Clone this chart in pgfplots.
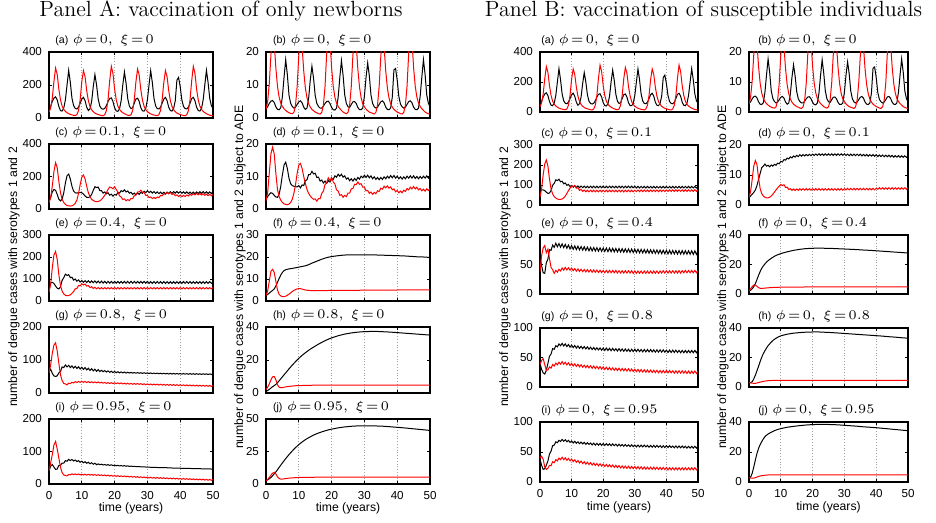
\RequirePackage{fix-cm}
\documentclass[border=0pt]{standalone}
\usepackage{fontspec}
\usepackage{pgfplots}
\usepackage{pgfplotstable}
\pgfplotsset{compat=1.18}
\newfontfamily\arial{Liberation Sans}
\newcommand{\tickfont}{\arial\fontsize{5.8}{6.5}\selectfont}
\newcommand{\lblfont}{\arial\fontsize{6.1}{7}\selectfont}
\newcommand{\ttl}[3]{{\arial\fontsize{5.3}{6}\selectfont(#1)}\hspace{2.3pt}{\thickmuskip=2.5mu$\phi=#2,\ \xi=#3$}}
\pgfplotsset{
  every axis title/.style={at={(0,1)}, anchor=base west, yshift=4.3pt, inner sep=0pt, font=\fontsize{6.6}{8}\selectfont},
  sp/.style={
    scale only axis, anchor=south west,
    xmin=0, xmax=50, ymin=0,
    xtick={0,10,20,30,40,50},
    xticklabels={},
    xmajorgrids, grid style={densely dotted, gray!75, line width=0.35pt},
    tick align=inside,
    major tick length=1.6pt,
    tick style={black, line width=0.4pt},
    axis line style={line width=0.7pt},
    ticklabel style={font=\tickfont},
    /pgf/number format/assume math mode=true,
    every axis plot/.append style={line width=0.5pt},
  },
  bot/.style={xticklabels={0,10,20,30,40,50}},
}
\begin{document}
\pgfplotstableread{
t b r
0 55 35
0.5 70 60
1 100 120
1.5 120 220
2 128 303
2.5 110 265
3 70 175
3.5 45 110
4 42 72
4.5 60 52
5 110 40
5.5 200 32
6 289 26
6.5 215 22
7 120 19
7.5 75 16
8 58 15
8.5 55 20
9 65 45
9.5 90 110
10 115 220
10.5 125 287
11 105 250
11.5 65 165
12 45 105
12.5 55 70
13 100 50
13.5 190 38
14 263 30
14.5 200 25
15 115 21
15.5 72 18
16 57 15
16.5 53 14
17 58 20
17.5 75 45
18 100 110
18.5 118 225
19 122 313
19.5 100 270
20 62 175
20.5 43 110
21 40 72
21.5 55 52
22 105 40
22.5 200 32
23 279 26
23.5 210 21
24 118 17
24.5 72 15
25 57 20
25.5 62 45
26 90 110
26.5 115 220
27 120 297
27.5 100 260
28 62 170
28.5 43 108
29 42 70
29.5 58 50
30 110 39
30.5 200 31
31 287 25
31.5 215 21
32 120 18
32.5 74 16
33 57 14
33.5 55 20
34 65 45
34.5 90 110
35 115 215
35.5 125 287
36 105 250
36.5 65 165
37 45 105
37.5 42 70
38 58 50
38.5 105 38
39 230 30
39.5 246 25
40 190 21
40.5 110 18
41 70 15
41.5 57 14
42 55 20
42.5 65 45
43 90 110
43.5 118 225
44 125 313
44.5 105 270
45 65 175
45.5 45 110
46 42 72
46.5 58 52
47 110 40
47.5 200 32
48 289 26
48.5 215 21
49 120 17
49.5 75 15
50 58 14
}\tA
\pgfplotstableread{
t b r
0 2.9 2.6
0.5 3.4 5.0
1 4.4 10.4
1.5 5.1 19.1
2 5.3 26.3
2.5 4.7 23.0
3 3.4 15.2
3.5 2.6 9.6
4 2.5 6.3
4.5 3.1 4.5
5 6.5 3.5
5.5 12.3 2.8
6 17.7 2.3
6.5 13.2 1.9
7 7.0 1.6
7.5 4.5 1.4
8 3.5 1.3
8.5 3.0 1.7
9 3.3 3.9
9.5 4.1 9.6
10 4.9 19.1
10.5 5.2 25.0
11 4.6 21.7
11.5 3.3 14.3
12 2.6 9.1
12.5 3.0 6.1
13 6.0 4.3
13.5 11.5 3.3
14 15.7 2.6
14.5 12.0 2.2
15 6.8 1.8
15.5 4.4 1.6
16 3.5 1.3
16.5 3.0 1.2
17 3.0 1.7
17.5 3.6 3.9
18 4.4 9.6
18.5 5.0 19.6
19 5.1 27.2
19.5 4.4 23.5
20 3.2 15.2
20.5 2.5 9.6
21 2.4 6.3
21.5 3.0 4.5
22 6.3 3.5
22.5 12.2 2.8
23 17.4 2.3
23.5 12.9 1.8
24 7.0 1.5
24.5 4.4 1.3
25 3.4 1.7
25.5 3.2 3.9
26 4.1 9.6
26.5 4.9 19.1
27 5.0 25.8
27.5 4.4 22.6
28 3.2 14.8
28.5 2.5 9.4
29 2.5 6.1
29.5 3.0 4.3
30 6.6 3.4
30.5 12.3 2.7
31 16.7 2.2
31.5 12.8 1.8
32 7.0 1.6
32.5 4.4 1.4
33 3.4 1.2
33.5 3.0 1.7
34 3.3 3.9
34.5 4.1 9.6
35 4.9 18.7
35.5 5.2 25.0
36 4.6 21.7
36.5 3.3 14.3
37 2.6 9.1
37.5 2.5 6.1
38 3.0 4.3
38.5 6.3 3.3
39 14.6 2.6
39.5 15.0 2.2
40 11.5 1.8
40.5 6.5 1.6
41 4.2 1.3
41.5 3.4 1.2
42 3.0 1.7
42.5 3.3 3.9
43 4.1 9.6
43.5 5.0 19.6
44 5.2 27.2
44.5 4.6 23.5
45 3.3 15.2
45.5 2.6 9.6
46 2.5 6.3
46.5 3.0 4.5
47 6.6 3.5
47.5 12.3 2.8
48 17.7 2.3
48.5 13.2 1.8
49 7.0 1.5
49.5 4.5 1.3
50 3.4 1.2
}\tB
\begin{tikzpicture}
\path[use as bounding box] (0,0) rectangle (468pt,-261.5pt);
% ---------------- Panel A ----------------
\begin{axis}[sp, at={(24.5pt,-59pt)}, width=82pt, height=33pt, ymax=400, ytick={0,200,400},
  title={\ttl{a}{0}{0}}, title style={xshift=3pt}]
\addplot[black] table[x=t,y=b]{\tA};
\addplot[red] table[x=t,y=r]{\tA};
\end{axis}
\begin{axis}[sp, at={(133pt,-59pt)}, width=82pt, height=33pt, ymax=20, ytick={0,10,20},
  title={\ttl{b}{0}{0}}, title style={xshift=3.3pt}]
\addplot[black] table[x=t,y=b]{\tB};
\addplot[red] table[x=t,y=r]{\tB};
\end{axis}
\begin{axis}[sp, at={(24.5pt,-104.5pt)}, width=82pt, height=32.5pt, ymax=400, ytick={0,200,400},
  title={\ttl{c}{0.1}{0}}, title style={xshift=3pt}]
\addplot[black] coordinates {(0,45)(0.5,70)(1,105)(1.5,120)(2,115)(2.5,90)(3,60)(3.5,50)(4,60)(4.5,100)(5,160)(5.5,205)(6,215)(6.5,185)(7,140)(7.5,110)(8,100)(8.5,98)(9,100)(9.5,102)(10,100)(10.5,92)(11,80)(11.5,72)(12,70)(12.5,75)(13,90)(13.5,115)(14,137)(14.5,132)(15,135)(15.5,113)(16,113)(16.5,98)(17,105)(17.5,93)(18,100)(18.5,85)(19,91)(19.5,79)(20,90)(20.5,85)(21,101)(21.5,98)(22,113)(22.5,107)(23,118)(23.5,105)(24,111)(24.5,97)(25,103)(25.5,90)(26,98)(26.5,87)(27,98)(27.5,90)(28,103)(28.5,96)(29,109)(29.5,101)(30,112)(30.5,101)(31,109)(31.5,98)(32,107)(32.5,96)(33,105)(33.5,94.5)(34,104)(34.5,93.5)(35,103)(35.5,93.5)(36,104)(36.5,95)(37,106)(37.5,96.5)(38,107)(38.5,97.5)(39,108)(39.5,97.5)(40,107)(40.5,96.5)(41,106)(41.5,95.5)(42,105)(42.5,94.5)(43,104)(43.5,94)(44,104)(44.5,94.5)(45,105)(45.5,95.5)(46,106)(46.5,96.5)(47,107)(47.5,96.5)(48,106)(48.5,95.5)(49,105)(49.5,95)(50,105)};
\addplot[red] coordinates {(0,40)(0.5,70)(1,140)(1.5,230)(2,285)(2.5,255)(3,170)(3.5,100)(4,60)(4.5,40)(5,28)(5.5,22)(6,19)(6.5,18)(7,20)(7.5,25)(8,35)(8.5,55)(9,95)(9.5,150)(10,195)(10.5,210)(11,185)(11.5,140)(12,100)(12.5,75)(13,60)(13.5,52)(14,47)(14.5,45)(15,46)(15.5,50)(16,58)(16.5,70)(17,85)(17.5,100)(18,120)(18.5,135)(19,132)(19.5,125)(20,137)(20.5,120)(21,104)(21.5,81)(22,74)(22.5,59)(23,62)(23.5,51)(24,58)(24.5,52)(25,64)(25.5,64)(26,82)(26.5,86)(27,104)(27.5,106)(28,116)(28.5,102)(29,102)(29.5,84)(30,84)(30.5,70)(31,74)(31.5,64)(32,71)(32.5,64)(33,74)(33.5,70)(34,83)(34.5,81)(35,94)(35.5,90)(36,101)(36.5,94)(37,101)(37.5,90)(38,94)(38.5,82)(39,87)(39.5,77)(40,84)(40.5,76)(41,84)(41.5,77)(42,86)(42.5,80)(43,90)(43.5,84)(44,94)(44.5,87)(45,96)(45.5,87.5)(46,95)(46.5,86)(47,93)(47.5,84)(48,91)(48.5,82.5)(49,90)(49.5,81.5)(50,89)};
\end{axis}
\begin{axis}[sp, at={(133pt,-104.5pt)}, width=82pt, height=32.5pt, ymax=20, ytick={0,10,20},
  title={\ttl{d}{0.1}{0}}, title style={xshift=3.3pt}]
\addplot[black] coordinates {(0,3)(0.5,3.8)(1,4.5)(1.5,5)(2,4.8)(2.5,4.2)(3,3.7)(3.5,3.6)(4,4.5)(4.5,7)(5,10.5)(5.5,13.5)(6,14.4)(6.5,12.5)(7,9.5)(7.5,7.8)(8,7.2)(8.5,7)(9,6.9)(9.5,6.8)(10,7.2)(10.5,6.5)(11,7.4)(11.5,7.2)(12,8.7)(12.5,9)(13,10.6)(13.5,10.6)(14,11.6)(14.5,10.8)(15,11)(15.5,9.7)(16,9.8)(16.5,8.6)(17,8.9)(17.5,8)(18,8.6)(18.5,7.9)(19,8.7)(19.5,8.3)(20,9.4)(20.5,9.1)(21,10.2)(21.5,9.8)(22,10.7)(22.5,10.1)(23,10.7)(23.5,9.8)(24,10.2)(24.5,9.2)(25,9.6)(25.5,8.7)(26,9.3)(26.5,8.6)(27,9.4)(27.5,8.8)(28,9.7)(28.5,9.2)(29,10.1)(29.5,9.6)(30,10.4)(30.5,9.7)(31,10.4)(31.5,9.6)(32,10.2)(32.5,9.3)(33,9.9)(33.5,9.1)(34,9.7)(34.5,9)(35,9.7)(35.5,9.1)(36,9.9)(36.5,9.3)(37,10.1)(37.5,9.5)(38,10.3)(38.5,9.6)(39,10.3)(39.5,9.5)(40,10.1)(40.5,9.3)(41,9.9)(41.5,9.2)(42,9.9)(42.5,9.3)(43,10.1)(43.5,9.5)(44,10.2)(44.5,9.5)(45,10.2)(45.5,9.4)(46,10)(46.5,9.3)(47,10)(47.5,9.4)(48,10.1)(48.5,9.5)(49,10.2)(49.5,9.5)(50,10.2)};
\addplot[red] coordinates {(0,2.5)(0.5,5)(1,11)(1.5,17)(2,19)(2.5,17)(3,11)(3.5,6)(4,3.8)(4.5,2.7)(5,2)(5.5,1.6)(6,1.4)(6.5,1.3)(7,1.5)(7.5,2)(8,3)(8.5,4.8)(9,7.5)(9.5,11)(10,13.5)(10.5,14)(11,12.5)(11.5,10)(12,7.8)(12.5,6)(13,4.8)(13.5,4)(14,3.4)(14.5,3)(15,3.1)(15.5,2.4)(16,3.2)(16.5,3.2)(17,4.8)(17.5,5.5)(18,7.5)(18.5,8.1)(19,9.6)(19.5,8.7)(20,9.7)(20.5,8.3)(21,7.7)(21.5,5.9)(22,5.5)(22.5,4.2)(23,4.4)(23.5,3.6)(24,4.2)(24.5,3.8)(25,4.9)(25.5,4.9)(26,6.2)(26.5,6.3)(27,7.6)(27.5,7.5)(28,8.3)(28.5,7.6)(29,7.8)(29.5,6.7)(30,6.7)(30.5,5.6)(31,5.7)(31.5,4.8)(32,5.2)(32.5,4.5)(33,5.1)(33.5,4.7)(34,5.6)(34.5,5.4)(35,6.4)(35.5,6.1)(36,7)(36.5,6.5)(37,7.1)(37.5,6.4)(38,6.8)(38.5,5.9)(39,6.2)(39.5,5.3)(40,5.7)(40.5,5)(41,5.5)(41.5,5)(42,5.8)(42.5,5.4)(43,6.3)(43.5,5.9)(44,6.7)(44.5,6.2)(45,6.9)(45.5,6.2)(46,6.7)(46.5,5.9)(47,6.3)(47.5,5.6)(48,6.1)(48.5,5.5)(49,6.2)(49.5,5.7)(50,6.3)};
\end{axis}
\begin{axis}[sp, at={(24.5pt,-150.5pt)}, width=82pt, height=33pt, ymax=300, ytick={0,100,200,300},
  title={\ttl{e}{0.4}{0}}, title style={xshift=3pt}]
\addplot[black] coordinates {(0,70)(0.5,82)(1,85)(1.5,80)(2,68)(2.5,58)(3,55)(3.5,65)(4,94)(4.5,106)(5,122)(5.5,116)(6,120)(6.5,106)(7,108)(7.5,95)(8,100)(8.5,90)(9,96)(9.5,86)(10,93)(10.5,85)(11,92.5)(11.5,84)(12,92)(12.5,83.5)(13,91.5)(13.5,83)(14,91)(14.5,82.5)(15,90.5)(15.5,82)(16,90)(16.5,81.5)(17,89)(17.5,81)(18,89)(18.5,81)(19,89)(19.5,81)(20,89)(20.5,81)(21,89)(21.5,81)(22,89)(22.5,81)(23,89)(23.5,81)(24,89)(24.5,81)(25,89)(25.5,81)(26,89)(26.5,81)(27,89)(27.5,81)(28,89)(28.5,81)(29,89)(29.5,81)(30,89)(30.5,80)(31,88)(31.5,80)(32,88)(32.5,80)(33,88)(33.5,80)(34,88)(34.5,80)(35,88)(35.5,80)(36,88)(36.5,80)(37,88)(37.5,80)(38,88)(38.5,80)(39,88)(39.5,80)(40,88)(40.5,80)(41,88)(41.5,80)(42,88)(42.5,80)(43,88)(43.5,80)(44,88)(44.5,80)(45,88)(45.5,80)(46,88)(46.5,80)(47,88)(47.5,80)(48,88)(48.5,80)(49,88)(49.5,80)(50,88)};
\addplot[red] coordinates {(0,40)(0.5,75)(1,150)(1.5,210)(2,225)(2.5,190)(3,120)(3.5,70)(4,45)(4.5,32)(5,26)(5.5,24)(6,25)(6.5,28)(7,35)(7.5,43)(8,55)(8.5,57)(9,70)(9.5,69)(10,78)(10.5,73)(11,77)(11.5,68)(12,70)(12.5,61)(13,65)(13.5,57)(14,62)(14.5,55.5)(15,61)(15.5,55)(16,61)(16.5,55)(17,61)(17.5,55)(18,61)(18.5,55)(19,61)(19.5,55)(20,61)(20.5,55)(21,61)(21.5,55)(22,61)(22.5,55)(23,61)(23.5,55)(24,61)(24.5,55)(25,61)(25.5,55)(26,61)(26.5,55)(27,61)(27.5,55)(28,61)(28.5,55)(29,61)(29.5,55)(30,61)(30.5,55)(31,61)(31.5,55)(32,61)(32.5,55)(33,61)(33.5,55)(34,61)(34.5,55)(35,61)(35.5,55)(36,61)(36.5,55)(37,61)(37.5,55)(38,61)(38.5,55)(39,61)(39.5,55)(40,61)(40.5,55)(41,61)(41.5,55)(42,61)(42.5,55)(43,61)(43.5,55)(44,61)(44.5,55)(45,61)(45.5,55)(46,61)(46.5,55)(47,61)(47.5,55)(48,61)(48.5,55)(49,61)(49.5,55)(50,61)};
\end{axis}
\begin{axis}[sp, at={(133pt,-150.5pt)}, width=82pt, height=33pt, ymax=30, ytick={0,10,20,30},
  title={\ttl{f}{0.4}{0}}, title style={xshift=3.3pt}]
\addplot[black] coordinates {(0,2.5)(0.5,3)(1,3.6)(1.5,4.2)(2,4.8)(2.5,5.5)(3,6.8)(3.5,8.5)(4,10.2)(4.5,11.8)(5,13)(5.5,13.8)(6,14.2)(6.5,14.4)(7,14.6)(8,14.8)(9,15.1)(10,15.4)(11,15.7)(12,16)(13,16.5)(14,17.2)(15,17.8)(16,18.4)(17,19)(18,19.5)(19,19.9)(20,20.2)(22,20.6)(24,20.9)(26,21)(28,21)(30,21)(32,21)(34,20.9)(36,20.8)(38,20.7)(40,20.6)(42,20.5)(44,20.3)(46,20.1)(48,20)(50,19.8)};
\addplot[red] coordinates {(0,2.5)(0.5,4.5)(1,9)(1.5,13.5)(2,14.4)(2.5,13)(3,9)(3.5,5)(4,3)(4.5,2.3)(5,2)(5.5,2)(6,2.2)(6.5,2.6)(7,3.1)(7.5,3.7)(8,4.3)(8.5,4.8)(9,5.2)(9.5,5.5)(10,5.6)(10.5,5.6)(11,5.4)(11.5,5.2)(12,5)(13,4.8)(14,4.7)(16,4.7)(20,4.8)(30,4.9)(40,5)(50,5)};
\end{axis}
\begin{axis}[sp, at={(24.5pt,-196.5pt)}, width=82pt, height=33pt, ymax=200, ytick={0,100,200},
  title={\ttl{g}{0.8}{0}}, title style={xshift=3pt}]
\addplot[black] coordinates {(0,65)(0.5,72)(1,60)(1.5,52)(2,50)(2.5,52)(3,61)(3.5,65)(4,79)(4.5,77)(5,85)(5.5,79)(6,84)(6.5,77)(7,82)(7.5,75.5)(8,81)(8.5,74.3)(9,79.5)(9.5,72.8)(10,78)(10.5,71.5)(11,77)(11.5,70)(12,75)(12.5,68.3)(13,73.5)(13.5,66.8)(14,72)(14.5,65.5)(15,71)(15.5,65)(16,69)(16.5,64.5)(17,68)(17.5,63.5)(18,67)(18.5,62.5)(19,66)(19.5,62)(20,65)(20.5,61.5)(21,64.5)(21.5,61)(22,64)(22.5,60.8)(23,63.5)(23.5,60.5)(24,63)(24.5,60.5)(25,62.5)(25.5,60.3)(26,62)(26.5,60)(27,61.8)(27.5,59.8)(28,61.5)(28.5,59.5)(29,61.3)(29.5,59.3)(30,61)(30.5,59)(31,60.8)(31.5,58.8)(32,60.5)(32.5,58.5)(33,60.3)(33.5,58.3)(34,60)(34.5,58)(35,59.8)(35.5,57.8)(36,59.5)(36.5,57.5)(37,59.5)(37.5,57.5)(38,59.3)(38.5,57.3)(39,59.3)(39.5,57.3)(40,59)(40.5,57)(41,59)(41.5,57)(42,58.8)(42.5,56.8)(43,58.8)(43.5,56.8)(44,58.5)(44.5,56.5)(45,58.5)(45.5,56.5)(46,58.3)(46.5,56.3)(47,58.3)(47.5,56.3)(48,58)(48.5,56)(49,58)(49.5,56)(50,58)};
\addplot[red] coordinates {(0,60)(0.5,85)(1,120)(1.5,145)(2,152)(2.5,128)(3,90)(3.5,55)(4,38)(4.5,29)(5,27.5)(5.5,24.5)(6,29.5)(6.5,28.5)(7,32.5)(7.5,30.5)(8,34.5)(8.5,31.8)(9,35)(9.5,32.3)(10,35.5)(10.5,32.3)(11,35)(11.5,31.8)(12,34.5)(12.5,31.3)(13,34)(13.5,31)(14,33.5)(14.5,30.8)(15,33.3)(15.5,30.5)(16,32.5)(16.5,29.8)(17,32)(17.5,29.3)(18,31.5)(18.5,28.8)(19,31.3)(19.5,28.5)(20,31)(20.5,28.3)(21,30.8)(21.5,28)(22,30.5)(22.5,27.5)(23,30)(23.5,27)(24,29.5)(24.5,26.8)(25,29.3)(25.5,26.5)(26,29)(26.5,26.3)(27,28.8)(27.5,26)(28,28.5)(28.5,25.5)(29,28)(29.5,25)(30,27.5)(30.5,24.8)(31,27.3)(31.5,24.5)(32,27)(32.5,24.3)(33,26.8)(33.5,24)(34,26.5)(34.5,23.8)(35,26.3)(35.5,23.5)(36,26)(36.5,23.3)(37,25.8)(37.5,23)(38,25.5)(38.5,22.8)(39,25.3)(39.5,22.5)(40,25)(40.5,22.3)(41,24.8)(41.5,22)(42,24.5)(42.5,21.8)(43,24.3)(43.5,21.5)(44,24)(44.5,21.3)(45,23.8)(45.5,21)(46,23.5)(46.5,20.8)(47,23.3)(47.5,20.5)(48,23)(48.5,20.3)(49,22.8)(49.5,20)(50,22.5)};
\end{axis}
\begin{axis}[sp, at={(133pt,-196.5pt)}, width=82pt, height=33pt, ymax=40, ytick={0,20,40},
  title={\ttl{h}{0.8}{0}}, title style={xshift=3.3pt}]
\addplot[black] coordinates {(0,1)(0.5,1.5)(1,2.2)(1.5,3)(2,3.8)(2.5,4.5)(3,5.2)(3.5,6.2)(4,7.4)(4.5,8.6)(5,9.8)(6,12.2)(7,14.6)(8,16.9)(9,19)(10,21)(11,22.8)(12,24.4)(13,25.9)(14,27.2)(15,28.4)(16,29.6)(17,30.7)(18,31.7)(19,32.6)(20,33.4)(22,34.7)(24,35.7)(26,36.4)(28,36.9)(30,37.2)(32,37.3)(34,37.3)(36,37.1)(38,36.9)(40,36.6)(42,36.3)(44,36)(46,35.7)(48,35.4)(50,35.1)};
\addplot[red] coordinates {(0,2)(0.5,3.5)(1,5.5)(1.5,8)(2,9.8)(2.5,10)(3,8)(3.5,5)(4,3.5)(4.5,3.2)(5,3.3)(5.5,3.5)(6,3.7)(7,4)(8,4.2)(9,4.4)(10,4.5)(12,4.6)(14,4.7)(16,4.8)(50,4.8)};
\end{axis}
\begin{axis}[sp, bot, at={(24.5pt,-242pt)}, width=82pt, height=32.5pt, ymax=200, ytick={0,100,200},
  title={\ttl{i}{0.95}{0}}, title style={xshift=3pt}]
\addplot[black] coordinates {(0,40)(0.5,55)(1,60)(1.5,52)(2,45)(2.5,46)(3,57)(3.5,58)(4,64)(4.5,64)(5,72)(5.5,70)(6,76)(6.5,72)(7,75.5)(7.5,70.8)(8,74)(8.5,69)(9,72)(9.5,67)(10,70)(10.5,65.3)(11,68.5)(11.5,63.8)(12,67)(12.5,62.3)(13,65.5)(13.5,60.8)(14,64)(14.5,59.5)(15,62)(15.5,59.5)(16,61)(16.5,58.5)(17,60)(17.5,57.8)(18,59.5)(18.5,57.3)(19,59)(19.5,56.5)(20,58)(20.5,56)(21,57.5)(21.5,55.5)(22,57)(22.5,55)(23,56.5)(23.5,54.5)(24,56)(24.5,54.3)(25,54.8)(26,54)(28,53)(30,52)(32,51)(34,50.5)(36,50)(38,49)(40,48.5)(42,48)(44,47.5)(46,47)(48,46.5)(50,46)};
\addplot[red] coordinates {(0,40)(0.5,65)(1,90)(1.5,120)(2,131)(2.5,108)(3,80)(3.5,52)(4,35)(4.5,28)(5,26.2)(5.5,24.8)(6,29.2)(6.5,28.3)(7,31.2)(7.5,28.8)(8,31.2)(8.5,28.5)(9,30.7)(9.5,28.1)(10,30.2)(10.5,27.7)(11,30)(11.5,27.5)(12,29.7)(12.5,27.2)(13,29.5)(13.5,27)(14,29.2)(14.5,26.5)(15,28.7)(15.5,26)(16,28.2)(16.5,25.5)(17,27.7)(17.5,25)(18,27.2)(18.5,24.5)(19,26.7)(19.5,24)(20,26.2)(20.5,23.5)(21,25.7)(21.5,23)(22,25.2)(22.5,22.5)(23,24.7)(23.5,22)(24,24.2)(24.5,21.5)(25,23.7)(25.5,21)(26,23.2)(26.5,20.5)(27,22.7)(27.5,20)(28,22.2)(28.5,19.5)(29,21.7)(29.5,19)(30,21.2)(30.5,18.5)(31,20.7)(31.5,18)(32,20.2)(32.5,17.6)(33,19.9)(33.5,17.3)(34,19.7)(34.5,17)(35,19.2)(35.5,16.5)(36,18.7)(36.5,16.1)(37,18.4)(37.5,15.8)(38,18.2)(38.5,15.5)(39,17.7)(39.5,15)(40,17.2)(40.5,14.6)(41,16.9)(41.5,14.3)(42,16.7)(42.5,14)(43,16.2)(43.5,13.5)(44,15.7)(44.5,13.1)(45,15.4)(45.5,12.8)(46,15.2)(46.5,12.5)(47,14.7)(47.5,12)(48,14.2)(48.5,11.6)(49,13.9)(49.5,11.3)(50,13.7)};
\end{axis}
\begin{axis}[sp, bot, at={(133pt,-242pt)}, width=82pt, height=32.5pt, ymax=50, ytick={0,25,50},
  title={\ttl{j}{0.95}{0}}, title style={xshift=3.3pt}]
\addplot[black] coordinates {(0,2.5)(0.5,3.2)(1,4)(1.5,5)(2,6.3)(2.5,7.8)(3,9.3)(3.5,11)(4,12.8)(4.5,14.5)(5,16.2)(6,19.5)(7,22.6)(8,25.4)(9,28)(10,30.3)(11,32.3)(12,34.1)(13,35.6)(14,37)(15,38.2)(16,39.2)(17,40.1)(18,40.9)(19,41.6)(20,42.2)(22,43.2)(24,43.9)(26,44.4)(28,44.7)(30,44.8)(32,44.8)(34,44.6)(36,44.4)(38,44)(40,43.6)(42,43.2)(44,42.7)(46,42.2)(48,41.7)(50,41.2)};
\addplot[red] coordinates {(0,2.5)(0.5,3.5)(1,5)(1.5,6.8)(2,8.3)(2.5,9)(3,7.8)(3.5,5.5)(4,4.2)(4.5,3.8)(5,3.8)(5.5,4)(6,4.2)(7,4.5)(8,4.7)(9,4.9)(10,5)(12,5.1)(15,5.2)(50,5.2)};
\end{axis}
% ---------------- Panel B ----------------
\begin{axis}[sp, at={(270pt,-56pt)}, width=79pt, height=30pt, ymax=400, ytick={0,200,400},
  title={\ttl{a}{0}{0}}, title style={xshift=0.5pt}]
\addplot[black] table[x=t,y=b]{\tA};
\addplot[red] table[x=t,y=r]{\tA};
\end{axis}
\begin{axis}[sp, at={(374.5pt,-56pt)}, width=79.5pt, height=30pt, ymax=20, ytick={0,10,20},
  title={\ttl{b}{0}{0}}, title style={xshift=4.5pt}]
\addplot[black] table[x=t,y=b]{\tB};
\addplot[red] table[x=t,y=r]{\tB};
\end{axis}
\begin{axis}[sp, at={(270pt,-102.5pt)}, width=79pt, height=30pt, ymax=300, ytick={0,100,200,300},
  title={\ttl{c}{0}{0.1}}, title style={xshift=0.5pt}]
\addplot[black] coordinates {(0,75)(0.5,76)(1,76)(1.5,72)(2,64)(2.5,58)(3,60)(3.5,72)(4,99)(4.5,108)(5,126)(5.5,122)(6,129)(6.5,116)(7,119)(7.5,106)(8,110)(8.5,98)(9,103)(9.5,92)(10,98)(10.5,89)(11,96)(11.5,87.5)(12,95)(12.5,87)(13,94.5)(13.5,86.5)(14,94)(14.5,86)(15,94)(15.5,86)(16,94)(16.5,86)(17,94)(17.5,86)(18,94)(18.5,86)(19,94)(19.5,86)(20,94)(20.5,86)(21,94)(21.5,86)(22,94)(22.5,86)(23,94)(23.5,86)(24,94)(24.5,86)(25,94)(25.5,86)(26,94)(26.5,86)(27,94)(27.5,86)(28,94)(28.5,86)(29,94)(29.5,86)(30,94)(30.5,85)(31,93)(31.5,85)(32,93)(32.5,85)(33,93)(33.5,85)(34,93)(34.5,85)(35,93)(35.5,85)(36,93)(36.5,85)(37,93)(37.5,85)(38,93)(38.5,85)(39,93)(39.5,85)(40,93)(40.5,85)(41,93)(41.5,85)(42,93)(42.5,85)(43,93)(43.5,85)(44,93)(44.5,85)(45,93)(45.5,85)(46,93)(46.5,85)(47,93)(47.5,85)(48,93)(48.5,85)(49,93)(49.5,85)(50,93)};
\addplot[red] coordinates {(0,40)(0.5,80)(1,150)(1.5,205)(2,225)(2.5,195)(3,130)(3.5,80)(4,55)(4.5,42)(5,35)(5.5,30)(6,28)(6.5,28)(7,30)(7.5,35)(8,45)(8.5,58)(9,72)(9.5,84)(10,96)(10.5,92)(11,98)(11.5,84)(12,86)(12.5,73)(13,78)(13.5,68)(14,75)(14.5,66.5)(15,74)(15.5,66)(16,74)(16.5,66)(17,74)(17.5,66)(18,74)(18.5,66)(19,74)(19.5,66)(20,74)(20.5,66)(21,74)(21.5,66)(22,74)(22.5,66)(23,74)(23.5,66)(24,74)(24.5,66)(25,74)(25.5,66)(26,74)(26.5,66)(27,74)(27.5,66)(28,74)(28.5,66)(29,74)(29.5,66)(30,74)(30.5,67)(31,75)(31.5,67)(32,75)(32.5,67)(33,75)(33.5,67)(34,75)(34.5,67)(35,75)(35.5,67)(36,75)(36.5,67)(37,75)(37.5,67)(38,75)(38.5,67)(39,75)(39.5,67)(40,75)(40.5,68)(41,76)(41.5,68)(42,76)(42.5,68)(43,76)(43.5,68)(44,76)(44.5,68)(45,76)(45.5,68)(46,76)(46.5,68)(47,76)(47.5,68)(48,76)(48.5,68)(49,76)(49.5,68)(50,76)};
\end{axis}
\begin{axis}[sp, at={(374.5pt,-102.5pt)}, width=79.5pt, height=30pt, ymax=20, ytick={0,10,20},
  title={\ttl{d}{0}{0.1}}, title style={xshift=4.5pt}]
\addplot[black] coordinates {(0,2.5)(0.5,3)(1,3.6)(1.5,4.2)(2,5)(2.5,6.5)(3,8.5)(3.5,10.5)(4,12.45)(4.5,12.95)(5,13.65)(5.5,12.95)(6,13.25)(6.5,12.75)(7,13.35)(7.5,12.95)(8,13.55)(8.5,13.25)(9,13.95)(9.5,13.75)(10,14.55)(10.5,14.35)(11,15.15)(11.5,14.95)(12,15.65)(12.5,15.35)(13,16.05)(13.5,15.7)(14,16.35)(14.5,15.95)(15,16.55)(15.5,16.15)(16,16.75)(16.5,16.3)(17,16.8)(17.5,16.35)(18,16.85)(18.5,16.4)(19,16.9)(19.5,16.45)(20,16.95)(20.5,16.5)(21,17)(21.5,16.55)(22,17.05)(22.5,16.55)(23,17.05)(23.5,16.55)(24,17.05)(24.5,16.55)(25,17.05)(25.5,16.55)(26,17.05)(26.5,16.55)(27,17.05)(27.5,16.55)(28,17.05)(28.5,16.55)(29,17.05)(29.5,16.55)(30,17.05)(30.5,16.5)(31,16.95)(31.5,16.45)(32,16.95)(32.5,16.45)(33,16.95)(33.5,16.45)(34,16.95)(34.5,16.45)(35,16.95)(35.5,16.35)(36,16.85)(36.5,16.35)(37,16.85)(37.5,16.3)(38,16.8)(38.5,16.3)(39,16.8)(39.5,16.25)(40,16.75)(40.5,16.15)(41,16.65)(41.5,16.15)(42,16.65)(42.5,16.1)(43,16.6)(43.5,16.1)(44,16.6)(44.5,16.05)(45,16.55)(45.5,15.95)(46,16.45)(46.5,15.95)(47,16.45)(47.5,15.9)(48,16.4)(48.5,15.9)(49,16.4)(49.5,15.85)(50,16.35)};
\addplot[red] coordinates {(0,2.5)(0.5,4.5)(1,8.5)(1.5,13)(2,14.8)(2.5,13.5)(3,9)(3.5,5.5)(4,3.8)(4.5,3)(5,2.6)(5.5,2.4)(6,2.4)(6.5,2.6)(7,3)(7.5,3.6)(8,4.3)(8.5,5)(9,5.7)(9.5,6.3)(10,6.85)(10.5,6.45)(11,6.75)(11.5,5.85)(12,5.95)(12.5,5.15)(13,5.45)(13.5,4.85)(14,5.35)(14.5,4.85)(15,5.35)(15.5,4.9)(16,5.45)(16.5,4.95)(17,5.45)(17.5,4.95)(18,5.45)(18.5,4.95)(19,5.45)(19.5,4.95)(20,5.45)(20.5,4.95)(21,5.45)(21.5,4.95)(22,5.45)(22.5,4.95)(23,5.45)(23.5,4.95)(24,5.45)(24.5,4.95)(25,5.45)(25.5,4.95)(26,5.45)(26.5,4.95)(27,5.45)(27.5,4.95)(28,5.45)(28.5,4.95)(29,5.45)(29.5,4.95)(30,5.45)(30.5,5.05)(31,5.55)(31.5,5.05)(32,5.55)(32.5,5.05)(33,5.55)(33.5,5.05)(34,5.55)(34.5,5.05)(35,5.55)(35.5,5.05)(36,5.55)(36.5,5.05)(37,5.55)(37.5,5.05)(38,5.55)(38.5,5.05)(39,5.55)(39.5,5.05)(40,5.55)(40.5,5.25)(41,5.75)(41.5,5.25)(42,5.75)(42.5,5.25)(43,5.75)(43.5,5.25)(44,5.75)(44.5,5.25)(45,5.75)(45.5,5.25)(46,5.75)(46.5,5.25)(47,5.75)(47.5,5.25)(48,5.75)(48.5,5.25)(49,5.75)(49.5,5.25)(50,5.75)};
\end{axis}
\begin{axis}[sp, at={(270pt,-147pt)}, width=79pt, height=29.5pt, ymax=100, ytick={0,50,100},
  title={\ttl{e}{0}{0.4}}, title style={xshift=0.5pt}]
\addplot[black] coordinates {(0,62)(0.5,48)(1,36)(1.5,35)(2,53)(2.5,59)(3,75)(3.5,74)(4,83)(4.5,79)(5,86)(5.5,80)(6,85.5)(6.5,79.3)(7,85)(7.5,78.5)(8,84)(8.5,77.5)(9,83)(9.5,76.5)(10,82)(10.5,75.8)(11,81.5)(11.5,75.3)(12,81)(12.5,74.8)(13,80.5)(13.5,74.3)(14,80)(14.5,73.8)(15,79.5)(15.5,73.3)(16,79)(16.5,73)(17,78.8)(17.5,72.8)(18,78.5)(18.5,72.5)(19,78.3)(19.5,72.3)(20,78)(20.5,72)(21,77.8)(21.5,71.8)(22,77.6)(22.5,71.6)(23,77.4)(23.5,71.4)(24,77.2)(24.5,71.2)(25,77)(25.5,71)(26,76.8)(26.5,70.8)(27,76.6)(27.5,70.6)(28,76.4)(28.5,70.4)(29,76.2)(29.5,70.2)(30,76)(30.5,70)(31,75.8)(31.5,69.8)(32,75.6)(32.5,69.6)(33,75.4)(33.5,69.4)(34,75.2)(34.5,69.2)(35,75)(35.5,69)(36,74.8)(36.5,68.8)(37,74.6)(37.5,68.6)(38,74.4)(38.5,68.4)(39,74.2)(39.5,68.2)(40,74)(40.5,68)(41,73.9)(41.5,67.9)(42,73.8)(42.5,67.8)(43,73.7)(43.5,67.7)(44,73.6)(44.5,67.6)(45,73.5)(45.5,67.5)(46,73.4)(46.5,67.4)(47,73.3)(47.5,67.3)(48,73.2)(48.5,67.2)(49,73.1)(49.5,67.1)(50,73)};
\addplot[red] coordinates {(0,38)(0.5,65)(1,78)(1.5,82)(2,70)(2.5,76)(3,60)(3.5,45)(4,41)(4.5,35)(5,40)(5.5,37)(6,42)(6.5,39)(7,44)(7.5,40.5)(8,45)(8.5,40.8)(9,44.5)(9.5,40.3)(10,44)(10.5,39.5)(11,43)(11.5,38.8)(12,42.5)(12.5,38.3)(13,42)(13.5,37.8)(14,41.5)(14.5,37.4)(15,41.3)(15.5,37.3)(16,41)(16.5,36.9)(17,40.8)(17.5,36.8)(18,40.5)(18.5,36.4)(19,40.3)(19.5,36.3)(20,40)(20.5,36)(21,40)(21.5,36)(22,40)(22.5,36)(23,40)(23.5,36)(24,40)(24.5,35.5)(25,39.5)(25.5,35.5)(26,39.5)(26.5,35.5)(27,39.5)(27.5,35.5)(28,39.5)(28.5,35.5)(29,39.5)(29.5,35)(30,39)(30.5,35)(31,39)(31.5,35)(32,39)(32.5,35)(33,39)(33.5,35)(34,39)(34.5,35)(35,39)(35.5,35)(36,39)(36.5,35)(37,39)(37.5,35)(38,39)(38.5,35.5)(39,39.5)(39.5,35.5)(40,39.5)(40.5,35.5)(41,39.5)(41.5,35.5)(42,39.5)(42.5,35.5)(43,39.5)(43.5,35.5)(44,39.5)(44.5,35.5)(45,39.5)(45.5,36)(46,40)(46.5,36)(47,40)(47.5,36)(48,40)(48.5,36)(49,40)(49.5,36)(50,40)};
\end{axis}
\begin{axis}[sp, at={(374.5pt,-147pt)}, width=79.5pt, height=29.5pt, ymax=40, ytick={0,20,40},
  title={\ttl{f}{0}{0.4}}, title style={xshift=4.5pt}]
\addplot[black] coordinates {(0,2)(0.5,2.5)(1,3.5)(1.5,5)(2,7)(2.5,9.8)(3,12.6)(3.5,15.2)(4,17.4)(4.5,19)(5,20.4)(5.5,21.6)(6,22.6)(7,24.2)(8,25.6)(9,26.6)(10,27.4)(12,28.6)(14,29.6)(16,30.3)(18,30.8)(20,31)(22,31.1)(24,31)(26,30.9)(28,30.7)(30,30.5)(32,30.3)(34,30.1)(36,29.8)(38,29.6)(40,29.3)(42,29)(44,28.7)(46,28.4)(48,28.1)(50,27.8)};
\addplot[red] coordinates {(0,2)(0.5,3.5)(1,5)(1.5,6)(2,6)(2.5,5.2)(3,4.3)(3.5,3.9)(4,3.8)(5,4)(6,4.2)(8,4.5)(10,4.6)(15,4.7)(20,4.8)(50,4.8)};
\end{axis}
\begin{axis}[sp, at={(270pt,-193.5pt)}, width=79pt, height=29.5pt, ymax=100, ytick={0,50,100},
  title={\ttl{g}{0}{0.8}}, title style={xshift=0.5pt}]
\addplot[black] coordinates {(0,40)(0.5,30)(1,24)(1.5,22)(2,28)(2.5,40)(3,52)(3.5,56)(4,65)(4.5,64)(5,70)(5.5,68)(6,73)(6.5,70)(7,74)(7.5,69.5)(8,73)(8.5,68.5)(9,72)(9.5,67.5)(10,71)(10.5,66.8)(11,70.3)(11.5,66)(12,69.5)(12.5,65.5)(13,69)(13.5,65)(14,68.5)(14.5,64.5)(15,68)(15.5,64)(16,67.5)(16.5,63.5)(17,67)(17.5,63)(18,66.5)(18.5,62.8)(19,66.3)(19.5,62.3)(20,66)(20.5,62)(21,66)(21.5,62)(22,65.5)(22.5,61.5)(23,65.5)(23.5,61.5)(24,65)(24.5,61)(25,65)(25.5,61)(26,64.5)(26.5,60.5)(27,64.5)(27.5,60.5)(28,64)(28.5,60)(29,64)(29.5,60)(30,64)(30.5,60)(31,64)(31.5,60)(32,63.5)(32.5,59.5)(33,63.5)(33.5,59.5)(34,63.5)(34.5,59.5)(35,63.5)(35.5,59.5)(36,63)(36.5,59)(37,63)(37.5,59)(38,63)(38.5,59)(39,63)(39.5,59)(40,62.5)(40.5,58.5)(41,62.5)(41.5,58.5)(42,62.5)(42.5,58.5)(43,62.5)(43.5,58.5)(44,62)(44.5,58)(45,62)(45.5,58)(46,62)(46.5,58)(47,62)(47.5,58)(48,62)(48.5,58)(49,62)(49.5,58)(50,62)};
\addplot[red] coordinates {(0,38)(0.5,45)(1,48)(1.5,38)(2,28)(2.5,29)(3,34)(3.5,32)(4,38)(4.5,35.5)(5,40.5)(5.5,37.5)(6,42)(6.5,38.5)(7,43)(7.5,38.5)(8,42)(8.5,37.5)(9,41)(9.5,36.5)(10,40)(10.5,35.6)(11,39.3)(11.5,34.9)(12,38.5)(12.5,34.1)(13,37.8)(13.5,33.4)(14,37)(14.5,32.8)(15,36.5)(15.5,32.3)(16,36)(16.5,31.8)(17,35.5)(17.5,31.3)(18,35)(18.5,30.8)(19,34.5)(19.5,30.3)(20,34)(20.5,29.8)(21,33.5)(21.5,29.3)(22,33)(22.5,28.8)(23,32.5)(23.5,28.3)(24,32)(24.5,27.9)(25,31.8)(25.5,27.6)(26,31.5)(26.5,27.4)(27,31.3)(27.5,27.1)(28,31)(28.5,26.8)(29,30.5)(29.5,26.3)(30,30)(30.5,25.9)(31,29.8)(31.5,25.6)(32,29.5)(32.5,25.4)(33,29.3)(33.5,25.1)(34,29)(34.5,24.9)(35,28.8)(35.5,24.6)(36,28.5)(36.5,24.4)(37,28.3)(37.5,24.1)(38,28)(38.5,24)(39,28)(39.5,24)(40,28)(40.5,24)(41,28)(41.5,24)(42,27.5)(42.5,23.5)(43,27.5)(43.5,23.5)(44,27.5)(44.5,23.5)(45,27.5)(45.5,23.5)(46,27)(46.5,23)(47,27)(47.5,23)(48,27)(48.5,23)(49,27)(49.5,23)(50,27)};
\end{axis}
\begin{axis}[sp, at={(374.5pt,-193.5pt)}, width=79.5pt, height=29.5pt, ymax=40, ytick={0,20,40},
  title={\ttl{h}{0}{0.8}}, title style={xshift=4.5pt}]
\addplot[black] coordinates {(0,3)(0.5,3)(1,3.5)(1.5,5.5)(2,8)(2.5,11)(3,14)(3.5,17.2)(4,20.2)(4.5,22.6)(5,24.6)(5.5,26.4)(6,28)(7,30.5)(8,32.4)(9,33.7)(10,34.7)(12,35.8)(14,36.5)(16,36.9)(18,37.2)(20,37.3)(22,37.3)(24,37.1)(26,36.9)(28,36.6)(30,36.3)(32,36)(34,35.7)(36,35.4)(38,35.1)(40,34.8)(42,34.5)(44,34.1)(46,33.8)(48,33.4)(50,33.1)};
\addplot[red] coordinates {(0,3)(0.5,2.8)(1,2.6)(1.5,2.5)(2,2.5)(2.5,2.7)(3,3)(3.5,3.3)(4,3.6)(5,4)(6,4.3)(7,4.4)(8,4.5)(50,4.5)};
\end{axis}
\begin{axis}[sp, bot, at={(270pt,-241pt)}, width=79pt, height=30pt, ymax=100, ytick={0,50,100},
  title={\ttl{i}{0}{0.95}}, title style={xshift=0.5pt}]
\addplot[black] coordinates {(0,38)(0.5,28)(1,21)(1.5,22)(2,28)(2.5,35)(3,46.5)(3.5,51.5)(4,60.5)(4.5,61.5)(5,67)(5.5,65.5)(6,69.5)(6.5,67.5)(7,71)(7.5,67.8)(8,70.5)(8.5,67)(9,69.5)(9.5,66)(10,68.5)(10.5,65)(11,67.8)(11.5,64.5)(12,67)(12.5,63.8)(13,66.5)(13.5,63.5)(14,66)(14.5,62.8)(15,65.5)(15.5,62.5)(16,65)(16.5,61.8)(17,64.8)(17.5,61.5)(18,64.5)(18.5,61.3)(19,64.3)(19.5,61)(20,64)(20.5,61)(21,64)(21.5,61)(22,63.5)(22.5,60.5)(23,63.5)(23.5,60.5)(24,63)(24.5,60)(25,63)(25.5,60)(26,62.5)(26.5,59.5)(27,62.5)(27.5,59.5)(28,62)(28.5,59)(29,62)(29.5,59)(30,61.5)(30.5,58.5)(31,61.5)(31.5,58.5)(32,61.5)(32.5,58.5)(33,61.5)(33.5,58.5)(34,61)(34.5,58)(35,61)(35.5,58)(36,61)(36.5,58)(37,61)(37.5,58)(38,60.5)(38.5,57.5)(39,60.5)(39.5,57.5)(40,60.5)(40.5,57.5)(41,60.5)(41.5,57.5)(42,60)(42.5,57)(43,60)(43.5,57)(44,60)(44.5,57)(45,60)(45.5,57)(46,59.5)(46.5,56.5)(47,59.5)(47.5,56.5)(48,59.5)(48.5,56.5)(49,59.5)(49.5,56.5)(50,59.5)};
\addplot[red] coordinates {(0,40)(0.5,43)(1,38)(1.5,25)(2,21)(2.5,23)(3,27.8)(3.5,27.2)(4,33.8)(4.5,32.2)(5,37.3)(5.5,35.2)(6,39.8)(6.5,37.2)(7,41.3)(7.5,37.2)(8,40.3)(8.5,36.2)(9,39.3)(9.5,35.2)(10,38.3)(10.5,34)(11,37)(11.5,32.9)(12,35.8)(12.5,31.7)(13,34.8)(13.5,30.7)(14,33.8)(14.5,29.8)(15,33)(15.5,29.1)(16,32.3)(16.5,28.3)(17,31.5)(17.5,27.6)(18,30.8)(18.5,27)(19,30.3)(19.5,26.5)(20,29.8)(20.5,26)(21,29.3)(21.5,25.5)(22,28.8)(22.5,25)(23,28.3)(23.5,24.5)(24,27.8)(24.5,24)(25,27.3)(25.5,23.5)(26,26.8)(26.5,23)(27,26.5)(27.5,22.8)(28,26.3)(28.5,22.5)(29,26)(29.5,22.3)(30,25.8)(30.5,22)(31,25.5)(31.5,21.8)(32,25.3)(32.5,21.5)(33,25)(33.5,21.3)(34,24.8)(34.5,21.2)(35,24.8)(35.5,21.2)(36,24.8)(36.5,21)(37,24.5)(37.5,20.9)(38,24.3)(38.5,20.7)(39,24.3)(39.5,20.7)(40,24.3)(40.5,20.2)(41,23.8)(41.5,20.2)(42,23.8)(42.5,20.2)(43,23.8)(43.5,20.2)(44,23.8)(44.5,20.2)(45,23.8)(45.5,20.2)(46,23.8)(46.5,20.2)(47,23.8)(47.5,20.2)(48,23.8)(48.5,20.2)(49,23.8)(49.5,20.2)(50,23.8)};
\end{axis}
\begin{axis}[sp, bot, at={(374.5pt,-241pt)}, width=79.5pt, height=30pt, ymax=40, ytick={0,20,40},
  title={\ttl{j}{0}{0.95}}, title style={xshift=4.5pt}]
\addplot[black] coordinates {(0,2)(0.5,3.2)(1,5.8)(1.5,10)(2,14.7)(2.5,19)(3,22.4)(3.5,24.9)(4,26.9)(4.5,28.7)(5,30.2)(5.5,31.2)(6,32)(7,33.2)(8,34.2)(9,35)(10,35.6)(12,36.5)(14,37.1)(16,37.6)(18,38)(20,38.3)(22,38.4)(24,38.4)(26,38.3)(28,38.1)(30,37.8)(32,37.5)(34,37.2)(36,36.8)(38,36.5)(40,36.2)(42,35.8)(44,35.4)(46,35)(48,34.6)(50,34.2)};
\addplot[red] coordinates {(0,3)(0.5,2.7)(1,2.5)(1.5,2.6)(2,2.9)(2.5,3.3)(3,3.7)(3.5,4)(4,4.2)(5,4.5)(6,4.7)(7,4.8)(40,4.8)(50,4.7)};
\end{axis}
% ---------------- labels ----------------
\node[anchor=base, font=\fontsize{11}{13}\selectfont, inner sep=0pt] at (110.5pt,-8.5pt) {Panel A: vaccination of only newborns};
\node[anchor=base, font=\fontsize{11}{13}\selectfont, inner sep=0pt] at (351.75pt,-8.5pt) {Panel B: vaccination of susceptible individuals};
\node[rotate=90, font=\lblfont, inner sep=0pt] at (7pt,-138.5pt) {number of dengue cases with serotypes 1 and 2};
\node[rotate=90, font=\lblfont, inner sep=0pt] at (120pt,-138.5pt) {number of dengue cases with serotypes 1 and 2 subject to ADE};
\node[rotate=90, font=\lblfont, inner sep=0pt] at (252.5pt,-138.5pt) {number of dengue cases with serotypes 1 and 2};
\node[rotate=90, font=\lblfont, inner sep=0pt] at (361.5pt,-138.5pt) {number of dengue cases with serotypes 1 and 2 subject to ADE};
\node[anchor=base, font=\lblfont, inner sep=0pt] at (65.5pt,-255.75pt) {time (years)};
\node[anchor=base, font=\lblfont, inner sep=0pt] at (174pt,-255.75pt) {time (years)};
\node[anchor=base, font=\lblfont, inner sep=0pt] at (309.5pt,-255pt) {time (years)};
\node[anchor=base, font=\lblfont, inner sep=0pt] at (414.25pt,-255pt) {time (years)};
\end{tikzpicture}
\end{document}
